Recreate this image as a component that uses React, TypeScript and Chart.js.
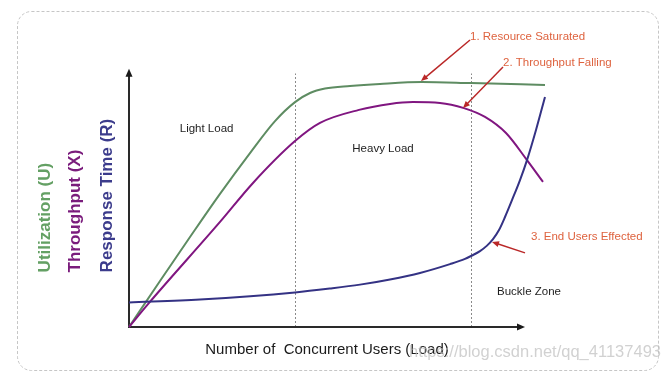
import React, { useEffect, useRef } from "react";
import { Chart, registerables } from "chart.js";

Chart.register(...registerables);

// ---- data (load on x, 0..110; value on y, 0..100) ----
const utilizationLoad = [0, 7.75, 15.25, 22.75, 30.25, 36.5, 41.5, 45.25, 49, 55.25, 62.75, 73.25, 85.5, 104];
const utilization = [0, 17.7, 34.6, 51.2, 66.9, 79.2, 86.5, 90, 91.7, 92.7, 93.5, 94.2, 93.8, 93.1];

const throughputLoad = [0, 4.75, 22.75, 31, 41.5, 47.75, 57.5, 65.25, 71, 77.75, 83.75, 89, 94.25, 99.5, 103.5];
const throughput = [0, 8.8, 40.4, 55.4, 71.5, 78.5, 83.5, 85.8, 86.5, 86.2, 84.2, 80.8, 74.6, 64.2, 55.8];

const responseLoad = [0, 17.75, 41.5, 50.25, 57.75, 65.25, 72.75, 80.25, 84, 85.75, 87.75, 89.5, 91, 92.5, 94, 95.75, 97.75, 99.5, 101.75, 104];
const responseTime = [9.4, 10.6, 13.3, 14.8, 16.3, 18.3, 20.8, 24.2, 26.2, 27.5, 29.2, 31.3, 33.8, 37.3, 42.3, 48.8, 56.5, 64.2, 75.8, 88.5];

const zoneBoundaries = [41.5, 85.5];
const zoneLabels = ["Light Load", "Heavy Load", "Buckle Zone"];
const zoneLabelX = [19.4, 63.5, 100];
const zoneLabelY = [76.2, 68.5, 13.5];

const callouts = ["1. Resource Saturated", "2. Throughput Falling", "3. End Users Effected"];
const calloutX = [85.25, 93.5, 100.5];
const calloutY = [111.5, 101.5, 34.6];
// arrow start (x,y) -> end (x,y) in data units
const arrowFromX = [85.25, 93.5, 99];
const arrowFromY = [110.4, 100, 28.5];
const arrowToX = [73, 83.5, 90.75];
const arrowToY = [94.6, 84.2, 32.7];

const yAxisTitles = ["Utilization (U)", "Throughput (X)", "Response Time (R)"];
const xAxisTitle = "Number of  Concurrent Users (Load)";
const watermark = "https://blog.csdn.net/qq_41137493";

const GREEN = "rgb(94,140,98)";
const PURPLE = "rgb(128,22,128)";
const BLUE = "rgb(52,50,132)";
const FONT = "'Liberation Sans', Arial, sans-serif";

function toPoints(xs: number[], ys: number[]) {
  return xs.map((x, i) => ({ x, y: ys[i] }));
}

function arrowHead(ctx: CanvasRenderingContext2D, fx: number, fy: number, tx: number, ty: number, len: number, half: number) {
  const a = Math.atan2(ty - fy, tx - fx);
  ctx.beginPath();
  ctx.moveTo(tx, ty);
  ctx.lineTo(tx - len * Math.cos(a) + half * Math.sin(a), ty - len * Math.sin(a) - half * Math.cos(a));
  ctx.lineTo(tx - len * Math.cos(a) - half * Math.sin(a), ty - len * Math.sin(a) + half * Math.cos(a));
  ctx.closePath();
  ctx.fill();
}

const overlay = {
  id: "overlay",
  beforeDatasetsDraw(chart: any) {
    const ctx: CanvasRenderingContext2D = chart.ctx;
    const xs = chart.scales.x;
    const ys = chart.scales.y;
    ctx.save();
    // dashed rounded frame
    ctx.strokeStyle = "#c6c6c6";
    ctx.lineWidth = 1;
    ctx.setLineDash([3, 2]);
    ctx.beginPath();
    (ctx as any).roundRect(17.5, 11.5, 641, 359, 14);
    ctx.stroke();

    // zone boundaries
    ctx.strokeStyle = "#8a8a8a";
    ctx.setLineDash([2, 2]);
    const y0 = ys.getPixelForValue(0);
    for (const b of zoneBoundaries) {
      const x = Math.round(xs.getPixelForValue(b)) + 0.5;
      ctx.beginPath();
      ctx.moveTo(x, y0);
      ctx.lineTo(x, ys.getPixelForValue(97.5));
      ctx.stroke();
    }

    // axes
    ctx.setLineDash([]);
    ctx.strokeStyle = "#2a2a2a";
    ctx.fillStyle = "#1a1a1a";
    ctx.lineWidth = 2;
    const x0 = xs.getPixelForValue(0);
    const yTop = ys.getPixelForValue(99.3);
    const xEnd = xs.getPixelForValue(99);
    ctx.beginPath();
    ctx.moveTo(x0, y0);
    ctx.lineTo(x0, yTop + 5);
    ctx.moveTo(x0 - 1, y0);
    ctx.lineTo(xEnd - 5, y0);
    ctx.stroke();
    arrowHead(ctx, x0, y0, x0, yTop, 8, 3.5);
    arrowHead(ctx, x0, y0, xEnd, y0, 8, 3.5);
    ctx.restore();
  },
  afterDatasetsDraw(chart: any) {
    const ctx: CanvasRenderingContext2D = chart.ctx;
    const xs = chart.scales.x;
    const ys = chart.scales.y;
    ctx.save();

    // zone labels
    ctx.fillStyle = "#1e1e1e";
    ctx.font = `11.5px ${FONT}`;
    ctx.textAlign = "center";
    ctx.textBaseline = "middle";
    zoneLabels.forEach((t, i) => {
      ctx.fillText(t, xs.getPixelForValue(zoneLabelX[i]), ys.getPixelForValue(zoneLabelY[i]));
    });

    // callouts
    ctx.fillStyle = "rgb(222,98,62)";
    ctx.textAlign = "left";
    callouts.forEach((t, i) => {
      ctx.fillText(t, xs.getPixelForValue(calloutX[i]), ys.getPixelForValue(calloutY[i]));
    });
    ctx.strokeStyle = "rgb(186,40,40)";
    ctx.fillStyle = "rgb(186,40,40)";
    ctx.lineWidth = 1.5;
    arrowFromX.forEach((fxv, i) => {
      const fx = xs.getPixelForValue(fxv);
      const fy = ys.getPixelForValue(arrowFromY[i]);
      const tx = xs.getPixelForValue(arrowToX[i]);
      const ty = ys.getPixelForValue(arrowToY[i]);
      const a = Math.atan2(ty - fy, tx - fx);
      ctx.beginPath();
      ctx.moveTo(fx, fy);
      ctx.lineTo(tx - 5 * Math.cos(a), ty - 5 * Math.sin(a));
      ctx.stroke();
      arrowHead(ctx, fx, fy, tx, ty, 7, 3);
    });

    // y-axis titles (rotated)
    const colors = ["rgb(100,160,100)", "rgb(122,28,124)", "rgb(60,60,140)"];
    const offsets = [-84, -54, -22];
    ctx.font = `bold 17px ${FONT}`;
    ctx.textAlign = "left";
    ctx.textBaseline = "middle";
    yAxisTitles.forEach((t, i) => {
      ctx.save();
      ctx.translate(chart.chartArea.left + offsets[i], ys.getPixelForValue(21));
      ctx.rotate(-Math.PI / 2);
      ctx.fillStyle = colors[i];
      ctx.fillText(t, 0, 0);
      ctx.restore();
    });

    // x-axis title
    ctx.font = `15px ${FONT}`;
    ctx.fillStyle = "#1a1a1a";
    ctx.textAlign = "center";
    ctx.fillText(xAxisTitle, xs.getPixelForValue(49.5), ys.getPixelForValue(0) + 23);

    // watermark
    ctx.font = `16.5px ${FONT}`;
    ctx.textAlign = "left";
    ctx.fillStyle = "rgba(190,190,190,0.7)";
    ctx.fillText(watermark, 409, ys.getPixelForValue(0) + 25);
    ctx.restore();
  },
};

export default function App() {
  const ref = useRef<HTMLCanvasElement | null>(null);
  useEffect(() => {
    if (!ref.current) return;
    const line = (data: any, color: string) => ({
      data,
      borderColor: color,
      borderWidth: 2,
      pointRadius: 0,
      fill: false,
      cubicInterpolationMode: "monotone" as const,
      clip: false as any,
    });
    const chart = new Chart(ref.current, {
      type: "line",
      data: {
        datasets: [
          { label: "Response Time (R)", ...line(toPoints(responseLoad, responseTime), BLUE) },
          { label: "Throughput (X)", ...line(toPoints(throughputLoad, throughput), PURPLE) },
          { label: "Utilization (U)", ...line(toPoints(utilizationLoad, utilization), GREEN) },
        ],
      },
      options: {
        responsive: false,
        animation: false,
        devicePixelRatio: 1,
        layout: { padding: { left: 129, right: 94, top: 67, bottom: 47 } },
        scales: {
          x: { type: "linear", min: 0, max: 110, display: false },
          y: { type: "linear", min: 0, max: 100, display: false },
        },
        plugins: { legend: { display: false }, tooltip: { enabled: false } },
        events: [],
      },
      plugins: [overlay],
    });
    return () => chart.destroy();
  }, []);
  return (
    <div style={{ position: "fixed", left: 0, top: 0, width: 663, height: 374, background: "#fff" }}>
      <canvas ref={ref} width={663} height={374} style={{ display: "block" }} />
    </div>
  );
}
